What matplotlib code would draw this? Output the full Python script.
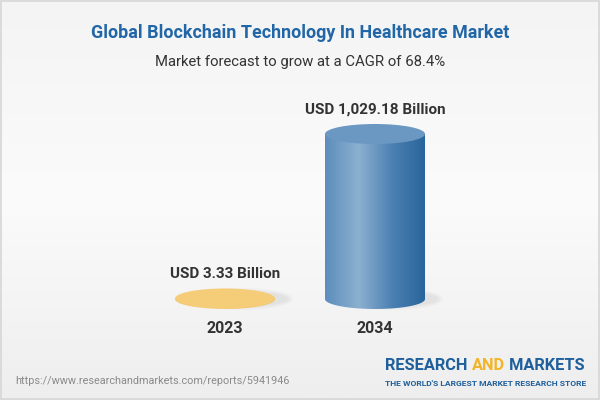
"""Global Blockchain Technology In Healthcare Market - cylinder forecast chart."""

import matplotlib

matplotlib.use("Agg")
import matplotlib.pyplot as plt
import numpy as np
from matplotlib.colors import LinearSegmentedColormap
from matplotlib.patches import Ellipse, PathPatch, Rectangle
from matplotlib.path import Path

plt.rcParams["font.family"] = ["Roboto", "DejaVu Sans"]

years = ["2023", "2034"]
values = [3.33, 1029.18]
value_labels = ["USD 3.33 Billion", "USD 1,029.18 Billion"]
title = "Global Blockchain Technology In Healthcare Market"
subtitle = "Market forecast to grow at a CAGR of 68.4%"
source_url = "https://www.researchandmarkets.com/reports/5941946"

BLUE_BODY = ["#5c8dbd", "#8cb0cf", "#4c80b3", "#27649a"]
BLUE_TOP = "#6a98c3"
YELLOW_BODY = ["#f3c86c", "#f7d489", "#f3c86c", "#eebf5c"]
YELLOW_TOP = "#f5cd78"
TEXT_DARK = "#333333"
TITLE_BLUE = "#2166a6"

fig = plt.figure(figsize=(6, 4), dpi=100)

# background gradient + border
bg = fig.add_axes([0, 0, 1, 1])
bg_cmap = LinearSegmentedColormap.from_list("bg", ["#eeeeee", "#fbfbfb", "#f4f4f4"])
bg.imshow(np.linspace(0, 1, 256).reshape(-1, 1), aspect="auto", cmap=bg_cmap,
          extent=[0, 1, 0, 1], origin="lower")
bg.set_xlim(0, 1)
bg.set_ylim(0, 1)
bg.axis("off")
bg.add_patch(Rectangle((0.001, 0.002), 0.998, 0.996, transform=bg.transAxes,
                       fill=False, edgecolor="#d6d6d6", linewidth=1.2))

# chart axes: baseline sits at 0.2525 of the figure, tallest top at 0.665
ax_b, ax_h = 0.1, 0.7
base_frac, top_frac = 0.2525, 0.665
span = ax_h * max(values) / (top_frac - base_frac)
lo = -(base_frac - ax_b) / ax_h * span
ax = fig.add_axes([0.2, ax_b, 0.6, ax_h])
ax.set_xlim(-0.7, 1.7)
ax.set_ylim(lo, lo + span)
ax.axis("off")

bar_w = 0.667
ell_h = 20 / (ax_h * 400) * span


def draw_cylinder(x, v, body_colors, top_color):
    left, right = x - bar_w / 2, x + bar_w / 2
    # soft shadow to the right of the base
    for i, a in enumerate([0.05, 0.05, 0.05, 0.04]):
        ax.add_patch(Ellipse((x + 0.12 + i * 0.02, 0), bar_w * (1.0 - i * 0.1),
                             ell_h * (1.1 - i * 0.15), facecolor="#9a9a9a",
                             edgecolor="none", alpha=a, zorder=1))
    t = np.linspace(np.pi, 2 * np.pi, 60)
    verts = [(left, v), (left, 0)]
    verts += list(zip(x + bar_w / 2 * np.cos(t), ell_h / 2 * np.sin(t)))
    verts += [(right, 0), (right, v), (left, v)]
    codes = [Path.MOVETO] + [Path.LINETO] * (len(verts) - 2) + [Path.CLOSEPOLY]
    body = PathPatch(Path(verts, codes), facecolor="none", edgecolor="none", zorder=2)
    ax.add_patch(body)
    cmap = LinearSegmentedColormap.from_list("body", body_colors)
    img = ax.imshow(np.linspace(0, 1, 256).reshape(1, -1), aspect="auto", cmap=cmap,
                    extent=[left, right, -ell_h, v], zorder=2, interpolation="bilinear")
    img.set_clip_path(body)
    ax.add_patch(Ellipse((x, v), bar_w, ell_h, facecolor=top_color,
                         edgecolor="none", zorder=3))


styles = [(YELLOW_BODY, YELLOW_TOP), (BLUE_BODY, BLUE_TOP)]
for i, (v, lab) in enumerate(zip(values, value_labels)):
    draw_cylinder(i, v, *styles[i])
    ax.annotate(lab, (i, v), xytext=(0, 14.5), textcoords="offset points",
                ha="center", va="baseline", fontsize=11, fontweight="bold",
                color=TEXT_DARK, zorder=4)
    ax.annotate(years[i], (i, 0), xytext=(0, -24.5), textcoords="offset points",
                ha="center", va="baseline", fontsize=11.5, fontweight="bold",
                color=TEXT_DARK, zorder=4)

ax.set_xlim(-0.7, 1.7)
ax.set_ylim(lo, lo + span)

fig.text(0.5, 0.9175, title, ha="center", va="center", fontsize=12.9,
         fontweight="bold", color=TITLE_BLUE)
fig.text(0.5, 0.845, subtitle, ha="center", va="center", fontsize=10.7,
         color=TEXT_DARK)
fig.text(0.025, 0.047, source_url, ha="left", va="center", fontsize=7.8,
         color="#8a8a8a")

# logo
fig.canvas.draw()
renderer = fig.canvas.get_renderer()
logo_parts = [("RESEARCH ", "#1f5f9c"), ("AND", "#f2b52a"), (" MARKETS", "#1f5f9c")]
x_px = 385
for part, col in logo_parts:
    t = fig.text(x_px / 600, 1 - 365 / 400, part, ha="left", va="center",
                 fontsize=11.8, fontweight="bold", color=col)
    x_px = t.get_window_extent(renderer).x1
fig.text(385 / 600, 1 - 383 / 400, "THE WORLD'S LARGEST MARKET RESEARCH STORE",
         ha="left", va="center", fontsize=6.1, fontweight="bold", color="#1f5f9c")

fig.savefig("out.png", dpi=100)
